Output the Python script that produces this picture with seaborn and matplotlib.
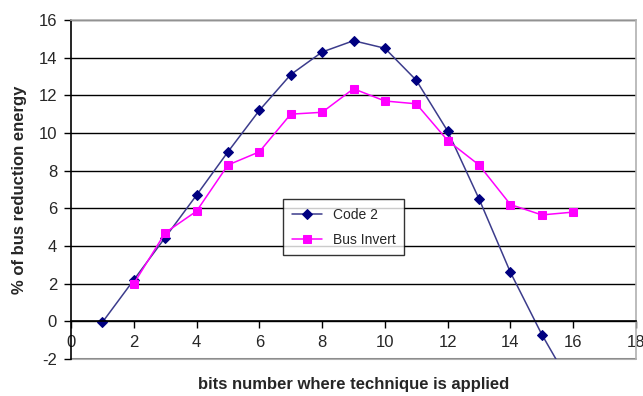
import numpy as np
import pandas as pd
import seaborn as sns
import matplotlib
matplotlib.use("Agg")
import matplotlib.pyplot as plt

# chart data
code2_bits = [1, 2, 3, 4, 5, 6, 7, 8, 9, 10, 11, 12, 13, 14, 15, 16]
code2_vals = [-0.05, 2.2, 4.45, 6.7, 9.0, 11.2, 13.1, 14.3, 14.9, 14.5, 12.8, 10.1, 6.5, 2.6, -0.7, -3.6]
invert_bits = [2, 3, 4, 5, 6, 7, 8, 9, 10, 11, 12, 13, 14, 15, 16]
invert_vals = [2.0, 4.7, 5.85, 8.3, 9.0, 11.0, 11.1, 12.35, 11.7, 11.55, 9.6, 8.3, 6.2, 5.65, 5.8]
x_ticks = [0, 2, 4, 6, 8, 10, 12, 14, 16, 18]
y_ticks = [-2, 0, 2, 4, 6, 8, 10, 12, 14, 16]

code2 = pd.DataFrame({"bits": code2_bits, "val": code2_vals})
invert = pd.DataFrame({"bits": invert_bits, "val": invert_vals})

sns.set_style("white")
plt.rcParams['font.family'] = ['Liberation Sans', 'DejaVu Sans']
plt.rcParams['axes.unicode_minus'] = False

fig = plt.figure(figsize=(6.43, 3.96), dpi=100)
ax = fig.add_axes([71 / 643, 1 - 359 / 396, 565 / 643, 339 / 396])

sns.lineplot(data=code2, x="bits", y="val", ax=ax,
             color="#3c3c8c", linewidth=1.1,
             marker="D", markersize=5, markerfacecolor="#000080",
             markeredgecolor="#000080", label="Code 2")
sns.lineplot(data=invert, x="bits", y="val", ax=ax,
             color="#ff00ff", linewidth=1.1,
             marker="s", markersize=6, markerfacecolor="#ff00ff",
             markeredgecolor="#ff00ff", label="Bus Invert")

ax.set_xlim(0, 18)
ax.set_ylim(-2, 16)
ax.set_xticks(x_ticks)
ax.set_yticks(y_ticks)

# excel style: x axis crosses at y=0, horizontal gridlines
ax.yaxis.grid(True, color="black", linewidth=1)
ax.xaxis.grid(False)
ax.spines['bottom'].set_position(('data', 0))
ax.spines['bottom'].set_color("black")
ax.spines['left'].set_color("black")
ax.spines['top'].set_color("#b0b0b0")
ax.spines['right'].set_color("#b0b0b0")
for s in ax.spines.values():
    s.set_linewidth(1.2)
ax.axhline(-2, color="#b0b0b0", linewidth=1.5, clip_on=False, zorder=0)

ax.tick_params(axis="both", which="major", direction="out", length=5,
               width=1, color="black", labelsize=12, pad=5)
ax.tick_params(axis="x", bottom=True)
ax.tick_params(axis="y", left=True)

ax.set_xlabel("bits number where technique is applied", fontsize=12, fontweight="bold")
ax.set_ylabel("% of bus reduction energy", fontsize=12, fontweight="bold")
ax.xaxis.set_label_coords(0.5, -0.053)
ax.yaxis.set_label_coords(-0.078, 0.5)

leg = ax.legend(loc="center", bbox_to_anchor=(0.483, 0.389), fontsize=10,
                frameon=True, fancybox=False, edgecolor="black",
                handlelength=2.2, borderpad=0.6, labelspacing=0.8)
leg.get_frame().set_linewidth(1.0)

fig.savefig("out.png", dpi=100)
plt.close()
